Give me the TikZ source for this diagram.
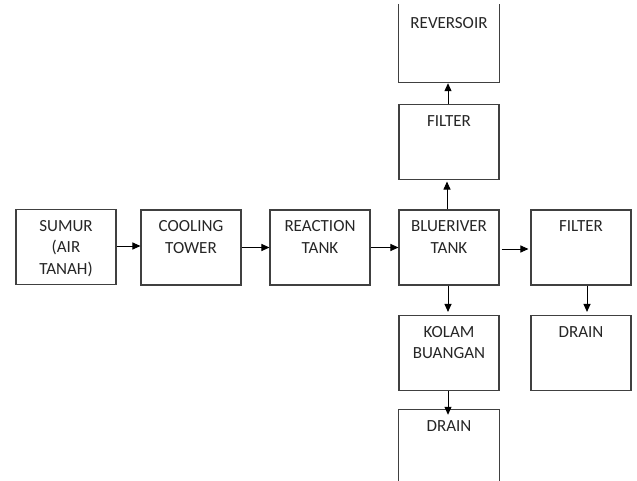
\documentclass[tikz,border=0pt]{standalone}
\usepackage{fontspec}
\setmainfont{Carlito}
\usetikzlibrary{arrows.meta}
\definecolor{edgecol}{HTML}{404040}
\definecolor{txtcol}{HTML}{262626}
\tikzset{
  box/.style={draw=edgecol, line width=1.1pt, minimum width=100pt, minimum height=75pt, inner sep=0pt},
  openbox/.style={minimum width=100pt, inner sep=0pt},
  side/.style={draw=edgecol, line width=1.1pt},
  txt/.style={anchor=north, inner sep=0pt, align=center, text=txtcol, font=\fontsize{17}{21.5}\selectfont},
  arr/.style={draw=black, line width=1pt, -{Triangle[length=8pt,width=7pt]}}
}
\begin{document}
\begin{tikzpicture}[x=1pt,y=-1pt]
\useasboundingbox (0,0) rectangle (637,481);
\clip (0,0) rectangle (637,481);
\fill[white] (0,0) rectangle (637,481);
% boxes
\node[box] (sumur) at (66,247) {};
\node[box] (cooling) at (191,247.5) {};
\node[box] (reaction) at (320,247.5) {};
\node[box] (blue) at (449,247.5) {};
\node[box] (filterR) at (581,247.5) {};
\node[box] (filterT) at (449,142) {};
\node[openbox, minimum height=78pt] (revers) at (449,43) {};
\node[box] (kolam) at (449,353) {};
\node[openbox, minimum height=78pt] (drain) at (449,449) {};
\node[box] (drainR) at (581,353) {};
\draw[side] (revers.north west) -- (revers.south west) -- (revers.south east) -- (revers.north east);
\draw[side] (drain.south west) -- (drain.north west) -- (drain.north east) -- (drain.south east);
% texts
\node[txt] (tsumur) at ([yshift=-11]sumur.north) {SUMUR\\(AIR\\TANAH)};
\node[txt] (tcooling) at ([yshift=-11]cooling.north) {COOLING\\TOWER};
\node[txt] (treaction) at ([yshift=-11]reaction.north) {REACTION\\TANK};
\node[txt] (tblue) at ([yshift=-11]blue.north) {BLUERIVER\\TANK};
\node[txt] (tfilterR) at ([yshift=-11]filterR.north) {FILTER};
\node[txt] (tfilterT) at ([yshift=-11]filterT.north) {FILTER};
\node[txt] (trevers) at ([yshift=-13]revers.north) {REVERSOIR};
\node[txt] (tkolam) at ([yshift=-11]kolam.north) {KOLAM\\BUANGAN};
\node[txt] (tdrain) at ([yshift=-11]drain.north) {DRAIN};
\node[txt] (tdrainR) at ([yshift=-11]drainR.north) {DRAIN};
% arrows
\draw[arr] ([yshift=1]sumur.east) -- ([yshift=1.5]cooling.west);
\draw[arr] (cooling.east) -- (reaction.west);
\draw[arr] (reaction.east) -- (blue.west);
\draw[arr] ([xshift=2,yshift=-1.5]blue.east) -- ([xshift=-2,yshift=-1.5]filterR.west);
\draw[arr] ([xshift=-2]blue.north) -- ([xshift=-2,yshift=-1.5]filterT.south);
\draw[arr] ([xshift=-1]filterT.north) -- ([xshift=-1,yshift=-1]revers.south);
\draw[arr] ([xshift=-1]blue.south) -- ([xshift=-1,yshift=3]kolam.north);
\draw[arr] ([xshift=-1]kolam.south) -- ([xshift=-1,yshift=-5]drain.north);
\draw[arr] ([xshift=6]filterR.south) -- ([xshift=6,yshift=3]drainR.north);
\end{tikzpicture}
\end{document}
